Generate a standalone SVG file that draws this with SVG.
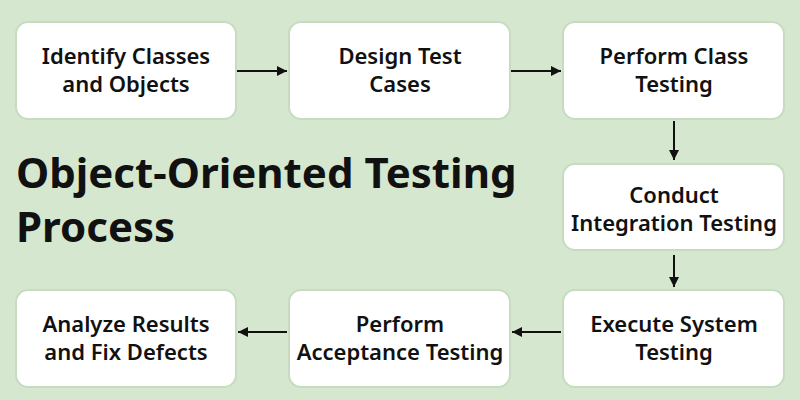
<svg xmlns="http://www.w3.org/2000/svg" width="800" height="400" viewBox="0 0 800 400">
<style>
.b{fill:#fff;stroke:#c6dbbf;stroke-width:2}
.t{font-family:"Noto Sans",sans-serif;font-weight:600;font-size:22px;fill:#111;text-anchor:middle}
.c{stroke:#111;stroke-width:2;fill:none;marker-end:url(#a)}
</style>
<defs><marker id="a" viewBox="0 0 10 10" refX="10" refY="5" markerWidth="5" markerHeight="5" orient="auto"><path d="M0,0L10,5L0,10z" fill="#111"/></marker></defs>
<rect width="800" height="400" fill="#d5e8cf"/>
<g id="n1"><rect class="b" x="16" y="22" width="220" height="97" rx="12"/><text class="t" x="126" y="64">Identify Classes</text><text class="t" x="126" y="92">and Objects</text></g>
<g id="n2"><rect class="b" x="289" y="22" width="221" height="97" rx="12"/><text class="t" x="400" y="64">Design Test</text><text class="t" x="400" y="92">Cases</text></g>
<g id="n3"><rect class="b" x="563" y="22" width="221" height="97" rx="12"/><text class="t" x="674" y="64">Perform Class</text><text class="t" x="674" y="92">Testing</text></g>
<g id="n4"><rect class="b" x="563" y="164" width="221" height="86" rx="12"/><text class="t" x="674" y="203">Conduct</text><text class="t" x="674" y="231">Integration Testing</text></g>
<g id="n5"><rect class="b" x="563" y="290" width="221" height="97" rx="12"/><text class="t" x="674" y="332">Execute System</text><text class="t" x="674" y="360">Testing</text></g>
<g id="n6"><rect class="b" x="289" y="290" width="221" height="97" rx="12"/><text class="t" x="400" y="332">Perform</text><text class="t" x="400" y="360">Acceptance Testing</text></g>
<g id="n7"><rect class="b" x="16" y="290" width="220" height="97" rx="12"/><text class="t" x="126" y="332">Analyze Results</text><text class="t" x="126" y="360">and Fix Defects</text></g>
<text x="16" y="188" font-family="Noto Sans,sans-serif" font-weight="700" font-size="42" fill="#111">Object-Oriented Testing</text>
<text x="16" y="242" font-family="Noto Sans,sans-serif" font-weight="700" font-size="42" fill="#111">Process</text>
<g id="connectors">
<path class="c" d="M237,71H287"/>
<path class="c" d="M511,71H561"/>
<path class="c" d="M674,121V160"/>
<path class="c" d="M674,255V287"/>
<path class="c" d="M561,332H512"/>
<path class="c" d="M287,332H238"/>
</g>
</svg>
